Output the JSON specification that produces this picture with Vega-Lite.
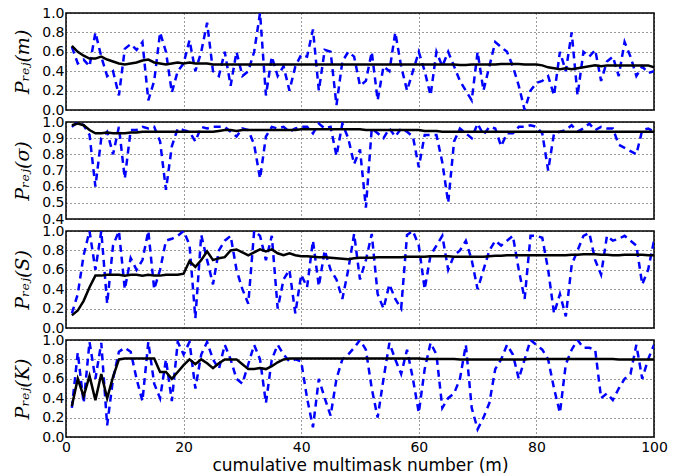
{
"$schema": "https://vega.github.io/schema/vega-lite/v6.json",
"padding": {"left": 12, "top": 5, "right": 10, "bottom": 5},
"background": "white",
"spacing": 12,
"bounds": "flush",
"config": {
 "view": {"stroke": "black", "strokeWidth": 1.5},
 "axis": {"grid": true, "gridColor": "black", "gridDash": [1, 3], "gridOpacity": 1, "gridWidth": 0.8, "domain": false, "ticks": false, "labelFont": "DejaVu Sans", "labelFontSize": 14, "labelColor": "black", "titleColor": "black"}
},
"datasets": {
"m": [
{"x":1,"d":0.65,"a":0.66},{"x":2,"d":0.48,"a":0.6},{"x":3,"d":0.52,"a":0.56},{"x":4,"d":0.45,"a":0.53},{"x":5,"d":0.8,"a":0.53},{"x":6,"d":0.55,"a":0.55},{"x":7,"d":0.35,"a":0.52},{"x":8,"d":0.4,"a":0.5},{"x":9,"d":0.15,"a":0.48},{"x":10,"d":0.63,"a":0.47},
{"x":11,"d":0.68,"a":0.48},{"x":12,"d":0.62,"a":0.49},{"x":13,"d":0.7,"a":0.51},{"x":14,"d":0.1,"a":0.52},{"x":15,"d":0.3,"a":0.49},{"x":16,"d":0.8,"a":0.48},{"x":17,"d":0.6,"a":0.47},{"x":18,"d":0.18,"a":0.48},{"x":19,"d":0.4,"a":0.49},{"x":20,"d":0.48,"a":0.48},
{"x":21,"d":0.72,"a":0.49},{"x":22,"d":0.4,"a":0.48},{"x":23,"d":0.6,"a":0.48},{"x":24,"d":0.9,"a":0.48},{"x":25,"d":0.4,"a":0.47},{"x":26,"d":0.35,"a":0.47},{"x":27,"d":0.6,"a":0.47},{"x":28,"d":0.25,"a":0.47},{"x":29,"d":0.6,"a":0.47},{"x":30,"d":0.35,"a":0.47},
{"x":31,"d":0.4,"a":0.47},{"x":32,"d":0.6,"a":0.47},{"x":33,"d":1.0,"a":0.47},{"x":34,"d":0.15,"a":0.47},{"x":35,"d":0.55,"a":0.47},{"x":36,"d":0.35,"a":0.47},{"x":37,"d":0.45,"a":0.47},{"x":38,"d":0.2,"a":0.47},{"x":39,"d":0.45,"a":0.47},{"x":40,"d":0.57,"a":0.47},
{"x":41,"d":0.55,"a":0.47},{"x":42,"d":0.83,"a":0.47},{"x":43,"d":0.2,"a":0.47},{"x":44,"d":0.62,"a":0.47},{"x":45,"d":0.6,"a":0.47},{"x":46,"d":0.05,"a":0.47},{"x":47,"d":0.5,"a":0.47},{"x":48,"d":0.6,"a":0.47},{"x":49,"d":0.55,"a":0.47},{"x":50,"d":0.25,"a":0.47},
{"x":51,"d":0.3,"a":0.47},{"x":52,"d":0.6,"a":0.47},{"x":53,"d":0.1,"a":0.47},{"x":54,"d":0.45,"a":0.47},{"x":55,"d":0.4,"a":0.47},{"x":56,"d":0.8,"a":0.47},{"x":57,"d":0.45,"a":0.47},{"x":58,"d":0.2,"a":0.47},{"x":59,"d":0.4,"a":0.47},{"x":60,"d":0.6,"a":0.47},
{"x":61,"d":0.4,"a":0.47},{"x":62,"d":0.15,"a":0.47},{"x":63,"d":0.6,"a":0.47},{"x":64,"d":0.45,"a":0.47},{"x":65,"d":0.6,"a":0.47},{"x":66,"d":0.45,"a":0.47},{"x":67,"d":0.3,"a":0.465},{"x":68,"d":0.2,"a":0.465},{"x":69,"d":0.1,"a":0.47},{"x":70,"d":0.6,"a":0.47},
{"x":71,"d":0.2,"a":0.47},{"x":72,"d":0.45,"a":0.47},{"x":73,"d":0.7,"a":0.47},{"x":74,"d":0.65,"a":0.475},{"x":75,"d":0.6,"a":0.475},{"x":76,"d":0.45,"a":0.475},{"x":77,"d":0.25,"a":0.475},{"x":78,"d":0.0,"a":0.47},{"x":79,"d":0.2,"a":0.47},{"x":80,"d":0.28,"a":0.47},
{"x":81,"d":0.3,"a":0.46},{"x":82,"d":0.35,"a":0.44},{"x":83,"d":0.15,"a":0.43},{"x":84,"d":0.6,"a":0.42},{"x":85,"d":0.4,"a":0.43},{"x":86,"d":0.8,"a":0.42},{"x":87,"d":0.15,"a":0.43},{"x":88,"d":0.6,"a":0.44},{"x":89,"d":0.55,"a":0.45},{"x":90,"d":0.62,"a":0.46},
{"x":91,"d":0.3,"a":0.45},{"x":92,"d":0.5,"a":0.46},{"x":93,"d":0.55,"a":0.46},{"x":94,"d":0.35,"a":0.46},{"x":95,"d":0.7,"a":0.46},{"x":96,"d":0.55,"a":0.46},{"x":97,"d":0.35,"a":0.46},{"x":98,"d":0.45,"a":0.46},{"x":99,"d":0.38,"a":0.46},{"x":100,"d":0.4,"a":0.44}
],
"sig": [
{"x":1,"d":0.97,"a":0.98},{"x":2,"d":1.0,"a":0.99},{"x":3,"d":0.98,"a":0.98},{"x":4,"d":0.92,"a":0.95},{"x":5,"d":0.6,"a":0.93},{"x":6,"d":0.9,"a":0.93},{"x":7,"d":0.94,"a":0.935},{"x":8,"d":0.8,"a":0.93},{"x":9,"d":0.97,"a":0.93},{"x":10,"d":0.65,"a":0.93},
{"x":11,"d":0.95,"a":0.935},{"x":12,"d":0.95,"a":0.935},{"x":13,"d":0.97,"a":0.94},{"x":14,"d":0.96,"a":0.94},{"x":15,"d":0.97,"a":0.94},{"x":16,"d":0.88,"a":0.94},{"x":17,"d":0.58,"a":0.94},{"x":18,"d":0.85,"a":0.94},{"x":19,"d":0.96,"a":0.94},{"x":20,"d":0.95,"a":0.94},
{"x":21,"d":0.94,"a":0.94},{"x":22,"d":0.88,"a":0.94},{"x":23,"d":0.97,"a":0.94},{"x":24,"d":0.96,"a":0.94},{"x":25,"d":0.97,"a":0.94},{"x":26,"d":0.97,"a":0.945},{"x":27,"d":0.97,"a":0.95},{"x":28,"d":0.94,"a":0.95},{"x":29,"d":0.91,"a":0.945},{"x":30,"d":0.96,"a":0.95},
{"x":31,"d":0.95,"a":0.95},{"x":32,"d":0.86,"a":0.95},{"x":33,"d":0.65,"a":0.95},{"x":34,"d":0.91,"a":0.95},{"x":35,"d":0.97,"a":0.95},{"x":36,"d":0.96,"a":0.95},{"x":37,"d":0.97,"a":0.95},{"x":38,"d":0.94,"a":0.95},{"x":39,"d":0.96,"a":0.95},{"x":40,"d":0.97,"a":0.955},
{"x":41,"d":0.97,"a":0.955},{"x":42,"d":0.93,"a":0.955},{"x":43,"d":0.99,"a":0.955},{"x":44,"d":0.96,"a":0.955},{"x":45,"d":0.97,"a":0.955},{"x":46,"d":0.79,"a":0.955},{"x":47,"d":0.99,"a":0.955},{"x":48,"d":0.9,"a":0.955},{"x":49,"d":0.74,"a":0.955},{"x":50,"d":0.83,"a":0.955},
{"x":51,"d":0.47,"a":0.95},{"x":52,"d":0.96,"a":0.95},{"x":53,"d":0.93,"a":0.95},{"x":54,"d":0.9,"a":0.95},{"x":55,"d":0.96,"a":0.95},{"x":56,"d":0.91,"a":0.95},{"x":57,"d":0.96,"a":0.95},{"x":58,"d":0.94,"a":0.95},{"x":59,"d":0.91,"a":0.95},{"x":60,"d":0.72,"a":0.95},
{"x":61,"d":0.92,"a":0.945},{"x":62,"d":0.92,"a":0.945},{"x":63,"d":0.92,"a":0.945},{"x":64,"d":0.75,"a":0.94},{"x":65,"d":0.5,"a":0.94},{"x":66,"d":0.88,"a":0.94},{"x":67,"d":0.96,"a":0.94},{"x":68,"d":0.93,"a":0.94},{"x":69,"d":0.9,"a":0.94},{"x":70,"d":0.99,"a":0.94},
{"x":71,"d":0.92,"a":0.94},{"x":72,"d":0.97,"a":0.94},{"x":73,"d":0.96,"a":0.94},{"x":74,"d":0.85,"a":0.94},{"x":75,"d":0.93,"a":0.94},{"x":76,"d":0.93,"a":0.94},{"x":77,"d":0.97,"a":0.94},{"x":78,"d":0.97,"a":0.94},{"x":79,"d":0.98,"a":0.94},{"x":80,"d":0.97,"a":0.94},
{"x":81,"d":0.93,"a":0.94},{"x":82,"d":0.7,"a":0.94},{"x":83,"d":0.93,"a":0.94},{"x":84,"d":0.94,"a":0.94},{"x":85,"d":0.95,"a":0.94},{"x":86,"d":0.98,"a":0.94},{"x":87,"d":0.94,"a":0.94},{"x":88,"d":0.96,"a":0.94},{"x":89,"d":0.99,"a":0.94},{"x":90,"d":0.95,"a":0.94},
{"x":91,"d":0.97,"a":0.94},{"x":92,"d":0.96,"a":0.94},{"x":93,"d":0.96,"a":0.94},{"x":94,"d":0.86,"a":0.94},{"x":95,"d":0.84,"a":0.94},{"x":96,"d":0.82,"a":0.94},{"x":97,"d":0.8,"a":0.94},{"x":98,"d":0.95,"a":0.94},{"x":99,"d":0.96,"a":0.94},{"x":100,"d":0.94,"a":0.94}
],
"S": [
{"x":1,"d":0.15,"a":0.13},{"x":2,"d":0.35,"a":0.18},{"x":3,"d":0.75,"a":0.28},{"x":4,"d":1.0,"a":0.42},{"x":5,"d":0.6,"a":0.54},{"x":6,"d":1.0,"a":0.54},{"x":7,"d":0.25,"a":0.55},{"x":8,"d":0.85,"a":0.55},{"x":9,"d":1.0,"a":0.55},{"x":10,"d":0.4,"a":0.54},
{"x":11,"d":0.72,"a":0.55},{"x":12,"d":0.6,"a":0.55},{"x":13,"d":0.7,"a":0.54},{"x":14,"d":1.0,"a":0.55},{"x":15,"d":0.4,"a":0.54},{"x":16,"d":0.6,"a":0.54},{"x":17,"d":0.9,"a":0.55},{"x":18,"d":0.92,"a":0.55},{"x":19,"d":0.95,"a":0.55},{"x":20,"d":1.0,"a":0.56},
{"x":21,"d":0.86,"a":0.69},{"x":22,"d":0.1,"a":0.63},{"x":23,"d":0.96,"a":0.7},{"x":24,"d":0.7,"a":0.79},{"x":25,"d":0.45,"a":0.7},{"x":26,"d":0.8,"a":0.72},{"x":27,"d":0.9,"a":0.73},{"x":28,"d":0.95,"a":0.8},{"x":29,"d":0.6,"a":0.81},{"x":30,"d":0.4,"a":0.78},
{"x":31,"d":0.25,"a":0.75},{"x":32,"d":1.0,"a":0.78},{"x":33,"d":0.95,"a":0.81},{"x":34,"d":0.7,"a":0.79},{"x":35,"d":0.95,"a":0.81},{"x":36,"d":0.2,"a":0.77},{"x":37,"d":0.5,"a":0.75},{"x":38,"d":0.6,"a":0.77},{"x":39,"d":0.15,"a":0.75},{"x":40,"d":0.55,"a":0.74},
{"x":41,"d":0.42,"a":0.74},{"x":42,"d":0.9,"a":0.735},{"x":43,"d":0.43,"a":0.73},{"x":44,"d":0.8,"a":0.73},{"x":45,"d":0.6,"a":0.725},{"x":46,"d":0.5,"a":0.72},{"x":47,"d":0.3,"a":0.715},{"x":48,"d":0.6,"a":0.71},{"x":49,"d":0.97,"a":0.72},{"x":50,"d":0.5,"a":0.725},
{"x":51,"d":0.7,"a":0.725},{"x":52,"d":0.97,"a":0.725},{"x":53,"d":0.35,"a":0.73},{"x":54,"d":0.2,"a":0.73},{"x":55,"d":0.45,"a":0.73},{"x":56,"d":0.3,"a":0.73},{"x":57,"d":0.2,"a":0.73},{"x":58,"d":0.96,"a":0.735},{"x":59,"d":1.0,"a":0.735},{"x":60,"d":0.85,"a":0.735},
{"x":61,"d":0.4,"a":0.735},{"x":62,"d":0.75,"a":0.74},{"x":63,"d":0.85,"a":0.74},{"x":64,"d":0.95,"a":0.74},{"x":65,"d":0.6,"a":0.74},{"x":66,"d":0.75,"a":0.735},{"x":67,"d":0.8,"a":0.735},{"x":68,"d":0.9,"a":0.735},{"x":69,"d":0.7,"a":0.735},{"x":70,"d":0.4,"a":0.735},
{"x":71,"d":0.6,"a":0.735},{"x":72,"d":0.8,"a":0.74},{"x":73,"d":0.9,"a":0.745},{"x":74,"d":0.85,"a":0.745},{"x":75,"d":0.9,"a":0.75},{"x":76,"d":0.95,"a":0.75},{"x":77,"d":0.6,"a":0.75},{"x":78,"d":0.3,"a":0.75},{"x":79,"d":0.95,"a":0.75},{"x":80,"d":0.95,"a":0.75},
{"x":81,"d":0.93,"a":0.75},{"x":82,"d":0.6,"a":0.75},{"x":83,"d":0.15,"a":0.75},{"x":84,"d":0.35,"a":0.75},{"x":85,"d":0.12,"a":0.75},{"x":86,"d":0.65,"a":0.755},{"x":87,"d":0.8,"a":0.755},{"x":88,"d":0.95,"a":0.76},{"x":89,"d":0.98,"a":0.76},{"x":90,"d":0.7,"a":0.76},
{"x":91,"d":0.55,"a":0.755},{"x":92,"d":0.95,"a":0.755},{"x":93,"d":0.9,"a":0.75},{"x":94,"d":0.92,"a":0.75},{"x":95,"d":0.95,"a":0.755},{"x":96,"d":0.9,"a":0.755},{"x":97,"d":0.85,"a":0.755},{"x":98,"d":0.45,"a":0.755},{"x":99,"d":0.6,"a":0.75},{"x":100,"d":0.9,"a":0.75}
],
"K": [
{"x":1,"d":0.3,"a":0.32},{"x":2,"d":0.87,"a":0.6},{"x":3,"d":0.35,"a":0.42},{"x":4,"d":0.98,"a":0.63},{"x":5,"d":0.6,"a":0.38},{"x":6,"d":0.97,"a":0.65},{"x":7,"d":0.12,"a":0.4},{"x":8,"d":0.6,"a":0.62},{"x":9,"d":0.88,"a":0.8},{"x":10,"d":0.92,"a":0.81},
{"x":11,"d":0.88,"a":0.81},{"x":12,"d":0.6,"a":0.81},{"x":13,"d":0.37,"a":0.81},{"x":14,"d":0.98,"a":0.81},{"x":15,"d":0.55,"a":0.81},{"x":16,"d":0.4,"a":0.67},{"x":17,"d":0.8,"a":0.67},{"x":18,"d":0.37,"a":0.6},{"x":19,"d":0.98,"a":0.67},{"x":20,"d":0.85,"a":0.74},
{"x":21,"d":0.98,"a":0.8},{"x":22,"d":0.5,"a":0.75},{"x":23,"d":0.85,"a":0.8},{"x":24,"d":0.98,"a":0.76},{"x":25,"d":0.8,"a":0.71},{"x":26,"d":0.7,"a":0.76},{"x":27,"d":0.95,"a":0.8},{"x":28,"d":0.8,"a":0.8},{"x":29,"d":0.6,"a":0.8},{"x":30,"d":0.55,"a":0.75},
{"x":31,"d":0.75,"a":0.7},{"x":32,"d":0.95,"a":0.7},{"x":33,"d":0.8,"a":0.71},{"x":34,"d":0.35,"a":0.7},{"x":35,"d":0.8,"a":0.73},{"x":36,"d":0.95,"a":0.77},{"x":37,"d":0.85,"a":0.8},{"x":38,"d":0.78,"a":0.81},{"x":39,"d":0.8,"a":0.81},{"x":40,"d":0.78,"a":0.81},
{"x":41,"d":0.4,"a":0.81},{"x":42,"d":0.1,"a":0.81},{"x":43,"d":0.6,"a":0.81},{"x":44,"d":0.4,"a":0.81},{"x":45,"d":0.22,"a":0.81},{"x":46,"d":0.6,"a":0.81},{"x":47,"d":0.8,"a":0.81},{"x":48,"d":0.85,"a":0.81},{"x":49,"d":0.92,"a":0.81},{"x":50,"d":1.0,"a":0.81},
{"x":51,"d":0.9,"a":0.81},{"x":52,"d":0.5,"a":0.81},{"x":53,"d":0.2,"a":0.81},{"x":54,"d":0.6,"a":0.81},{"x":55,"d":0.97,"a":0.81},{"x":56,"d":0.8,"a":0.81},{"x":57,"d":0.65,"a":0.81},{"x":58,"d":0.9,"a":0.81},{"x":59,"d":0.6,"a":0.81},{"x":60,"d":0.25,"a":0.81},
{"x":61,"d":0.7,"a":0.805},{"x":62,"d":0.97,"a":0.805},{"x":63,"d":0.85,"a":0.805},{"x":64,"d":0.3,"a":0.805},{"x":65,"d":0.4,"a":0.805},{"x":66,"d":0.45,"a":0.805},{"x":67,"d":0.6,"a":0.8},{"x":68,"d":0.95,"a":0.8},{"x":69,"d":0.3,"a":0.8},{"x":70,"d":0.08,"a":0.8},
{"x":71,"d":0.2,"a":0.8},{"x":72,"d":0.35,"a":0.8},{"x":73,"d":0.7,"a":0.8},{"x":74,"d":0.8,"a":0.8},{"x":75,"d":0.95,"a":0.8},{"x":76,"d":0.85,"a":0.8},{"x":77,"d":0.6,"a":0.8},{"x":78,"d":0.8,"a":0.8},{"x":79,"d":1.0,"a":0.805},{"x":80,"d":0.95,"a":0.805},
{"x":81,"d":0.9,"a":0.805},{"x":82,"d":0.8,"a":0.805},{"x":83,"d":0.5,"a":0.805},{"x":84,"d":0.25,"a":0.805},{"x":85,"d":0.75,"a":0.805},{"x":86,"d":0.9,"a":0.805},{"x":87,"d":1.0,"a":0.805},{"x":88,"d":0.92,"a":0.805},{"x":89,"d":0.92,"a":0.805},{"x":90,"d":0.9,"a":0.805},
{"x":91,"d":0.4,"a":0.805},{"x":92,"d":0.45,"a":0.805},{"x":93,"d":0.38,"a":0.805},{"x":94,"d":0.5,"a":0.8},{"x":95,"d":0.6,"a":0.8},{"x":96,"d":0.65,"a":0.8},{"x":97,"d":0.95,"a":0.8},{"x":98,"d":0.6,"a":0.8},{"x":99,"d":0.8,"a":0.8},{"x":100,"d":0.95,"a":0.8}
]
},
"vconcat": [
{
 "width": 588, "height": 97,
 "data": {"name": "m"},
 "encoding": {"x": {"field": "x", "type": "quantitative", "scale": {"domain": [0, 100], "nice": false}, "axis": {"values": [0, 20, 40, 60, 80, 100], "labels": false, "title": null}}},
 "layer": [
  {"mark": {"type": "line", "color": "#0000ff", "strokeWidth": 2.5, "strokeDash": [7, 5], "clip": true},
   "encoding": {"y": {"field": "d", "type": "quantitative", "scale": {"domain": [0, 1], "nice": false}, "axis": {"values": [0, 0.2, 0.4, 0.6, 0.8, 1.0], "format": ".1f", "title": "Pᵣₑⱼ(m)", "titleFont": "DejaVu Serif", "titleFontStyle": "italic", "titleFontWeight": "normal", "titleFontSize": 19, "labelPadding": 2, "titlePadding": 9}}}},
  {"mark": {"type": "line", "color": "black", "strokeWidth": 2.5, "clip": true},
   "encoding": {"y": {"field": "a", "type": "quantitative", "scale": {"domain": [0, 1], "nice": false}, "axis": {"values": [0, 0.2, 0.4, 0.6, 0.8, 1.0], "format": ".1f", "title": "Pᵣₑⱼ(m)", "titleFont": "DejaVu Serif", "titleFontStyle": "italic", "titleFontWeight": "normal", "titleFontSize": 19, "labelPadding": 2, "titlePadding": 9}}}}
 ]
},
{
 "width": 588, "height": 97,
 "data": {"name": "sig"},
 "encoding": {"x": {"field": "x", "type": "quantitative", "scale": {"domain": [0, 100], "nice": false}, "axis": {"values": [0, 20, 40, 60, 80, 100], "labels": false, "title": null}}},
 "layer": [
  {"mark": {"type": "line", "color": "#0000ff", "strokeWidth": 2.5, "strokeDash": [7, 5], "clip": true},
   "encoding": {"y": {"field": "d", "type": "quantitative", "scale": {"domain": [0.4, 1], "nice": false, "zero": false}, "axis": {"values": [0.4, 0.5, 0.6, 0.7, 0.8, 0.9, 1.0], "format": ".1f", "title": "Pᵣₑⱼ(σ)", "titleFont": "DejaVu Serif", "titleFontStyle": "italic", "titleFontWeight": "normal", "titleFontSize": 19, "labelPadding": 2, "titlePadding": 9}}}},
  {"mark": {"type": "line", "color": "black", "strokeWidth": 2.5, "clip": true},
   "encoding": {"y": {"field": "a", "type": "quantitative", "scale": {"domain": [0.4, 1], "nice": false, "zero": false}, "axis": {"values": [0.4, 0.5, 0.6, 0.7, 0.8, 0.9, 1.0], "format": ".1f", "title": "Pᵣₑⱼ(σ)", "titleFont": "DejaVu Serif", "titleFontStyle": "italic", "titleFontWeight": "normal", "titleFontSize": 19, "labelPadding": 2, "titlePadding": 9}}}}
 ]
},
{
 "width": 588, "height": 97,
 "data": {"name": "S"},
 "encoding": {"x": {"field": "x", "type": "quantitative", "scale": {"domain": [0, 100], "nice": false}, "axis": {"values": [0, 20, 40, 60, 80, 100], "labels": false, "title": null}}},
 "layer": [
  {"mark": {"type": "line", "color": "#0000ff", "strokeWidth": 2.5, "strokeDash": [7, 5], "clip": true},
   "encoding": {"y": {"field": "d", "type": "quantitative", "scale": {"domain": [0, 1], "nice": false}, "axis": {"values": [0, 0.2, 0.4, 0.6, 0.8, 1.0], "format": ".1f", "title": "Pᵣₑⱼ(S)", "titleFont": "DejaVu Serif", "titleFontStyle": "italic", "titleFontWeight": "normal", "titleFontSize": 19, "labelPadding": 2, "titlePadding": 9}}}},
  {"mark": {"type": "line", "color": "black", "strokeWidth": 2.5, "clip": true},
   "encoding": {"y": {"field": "a", "type": "quantitative", "scale": {"domain": [0, 1], "nice": false}, "axis": {"values": [0, 0.2, 0.4, 0.6, 0.8, 1.0], "format": ".1f", "title": "Pᵣₑⱼ(S)", "titleFont": "DejaVu Serif", "titleFontStyle": "italic", "titleFontWeight": "normal", "titleFontSize": 19, "labelPadding": 2, "titlePadding": 9}}}}
 ]
},
{
 "width": 588, "height": 97,
 "data": {"name": "K"},
 "encoding": {"x": {"field": "x", "type": "quantitative", "scale": {"domain": [0, 100], "nice": false}, "axis": {"values": [0, 20, 40, 60, 80, 100], "labelFlush": false, "labelPadding": 3, "title": "cumulative multimask number (m)", "titleFont": "DejaVu Sans", "titleFontSize": 17, "titleFontWeight": "normal", "titlePadding": 3}}},
 "layer": [
  {"mark": {"type": "line", "color": "#0000ff", "strokeWidth": 2.5, "strokeDash": [7, 5], "clip": true},
   "encoding": {"y": {"field": "d", "type": "quantitative", "scale": {"domain": [0, 1], "nice": false}, "axis": {"values": [0, 0.2, 0.4, 0.6, 0.8, 1.0], "format": ".1f", "title": "Pᵣₑⱼ(K)", "titleFont": "DejaVu Serif", "titleFontStyle": "italic", "titleFontWeight": "normal", "titleFontSize": 19, "labelPadding": 2, "titlePadding": 9}}}},
  {"mark": {"type": "line", "color": "black", "strokeWidth": 2.5, "clip": true},
   "encoding": {"y": {"field": "a", "type": "quantitative", "scale": {"domain": [0, 1], "nice": false}, "axis": {"values": [0, 0.2, 0.4, 0.6, 0.8, 1.0], "format": ".1f", "title": "Pᵣₑⱼ(K)", "titleFont": "DejaVu Serif", "titleFontStyle": "italic", "titleFontWeight": "normal", "titleFontSize": 19, "labelPadding": 2, "titlePadding": 9}}}}
 ]
}
]
}
